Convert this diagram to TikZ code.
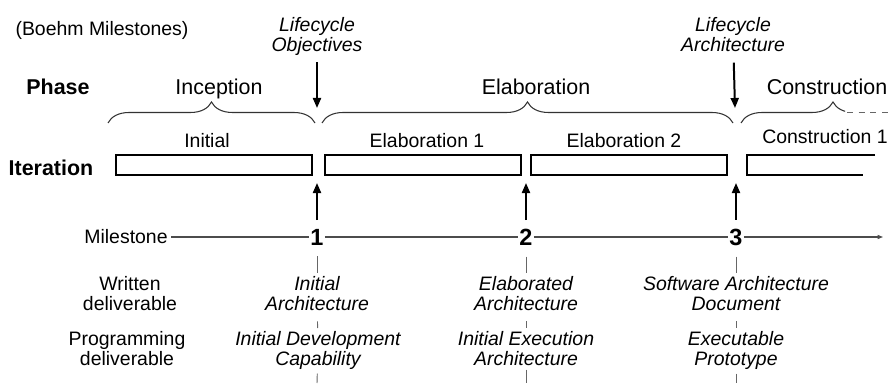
\documentclass[tikz,border=0pt]{standalone}
\usepackage{fontspec}
\setmainfont{Liberation Sans}
\usetikzlibrary{arrows.meta, decorations.pathreplacing, positioning}

\begin{document}
\begin{tikzpicture}[
    x=0.03cm, y=0.03cm,
    txt/.style={font=\fontsize{16.6}{17}\selectfont, align=center, inner sep=3pt},
    deliv/.style={font=\itshape\fontsize{16.6}{17}\selectfont, align=center, inner sep=3pt, anchor=north},
    phasename/.style={font=\fontsize{18.3}{20}\selectfont, anchor=base},
    rowhead/.style={font=\bfseries\fontsize{18.3}{20}\selectfont, anchor=base},
    num/.style={font=\bfseries\fontsize{20}{20}\selectfont, inner sep=1pt},
    iterbox/.style={draw, line width=1.7pt, minimum width=5.88cm, minimum height=0.6cm, inner sep=0pt},
    bigarrow/.style={-{Triangle[length=0.3cm, width=0.24cm]}, line width=1.7pt},
    phasebrace/.style={decorate, decoration={brace, amplitude=0.63cm}, draw=black!80, line width=0.9pt},
    tick/.style={draw=black!60, line width=0.8pt},
    msline/.style={draw=black!70, line width=0.9pt}
]
    \useasboundingbox (0,0) rectangle (891,383);

    % headings
    \node[txt, anchor=base] (boehm) at (102,347) {(Boehm Milestones)};
    \node[txt, font=\itshape\fontsize{16.6}{17}\selectfont, anchor=north] (lco) at (317,369.5) {Lifecycle\\Objectives};
    \node[txt, font=\itshape\fontsize{16.6}{17}\selectfont, anchor=north] (lca) at (733,369.5) {Lifecycle\\Architecture};
    \coordinate (lcotip) at (317,275);
    \coordinate (lcatip) at (735,275);
    \draw[bigarrow, shorten <=0.1cm] (lco) -- (lcotip);
    \draw[bigarrow, shorten <=0.22cm] (lca) -- (lcatip);

    % phases
    \node[rowhead] (phase) at (58,288) {Phase};
    \node[phasename] (inception) at (219,288) {Inception};
    \node[phasename] (elaboration) at (536,288) {Elaboration};
    \node[phasename] (construction) at (827,288) {Construction};
    \draw[phasebrace] (108,260) -- (315,260);
    \draw[phasebrace] (322,260) -- (733,260);
    \begin{scope}
        \clip (736,240) rectangle (845,300);
        \draw[phasebrace] (741,260) -- (925,260);
    \end{scope}
    \draw[draw=black!60, line width=0.9pt, dash pattern=on 5pt off 5pt] (847,270.5) -- (891,270.5);

    % iterations
    \node[rowhead] (iteration) at (51,208) {Iteration};
    \node[iterbox] (it1) at (214,218) {};
    \node[iterbox] (it2) at (423,218) {};
    \node[iterbox] (it3) at (629,218) {};
    \draw[line width=1.7pt] (875,228) -- (747,228) -- (747,208) -- (863,208);
    \node[txt, anchor=base] (initial) at (207,236) {Initial};
    \node[txt, anchor=base] (elab1) at (427,236) {Elaboration 1};
    \node[txt, anchor=base] (elab2) at (624,236) {Elaboration 2};
    \node[txt, anchor=base] (cons1) at (825,240) {Construction 1};

    % milestones
    \node[txt] (milestone) at (126,146) {Milestone};
    \node[num] (m1) at (317,146) {1};
    \node[num] (m2) at (526,146) {2};
    \node[num] (m3) at (736,146) {3};
    \coordinate (msend) at (883,146);
    \draw[msline] (milestone) -- (m1);
    \draw[msline] (m1) -- (m2);
    \draw[msline] (m2) -- (m3);
    \draw[msline, -{Triangle[length=0.16cm, width=0.12cm]}] (m3) -- (msend);
    \coordinate (up1) at (317,200);
    \coordinate (up2) at (526,200);
    \coordinate (up3) at (736,200);
    \draw[bigarrow, shorten <=0.22cm] (m1) -- (up1);
    \draw[bigarrow, shorten <=0.22cm] (m2) -- (up2);
    \draw[bigarrow, shorten <=0.22cm] (m3) -- (up3);

    % deliverables
    \node[txt, anchor=north] (written) at (130,110) {Written\\deliverable};
    \node[txt, anchor=north] (programming) at (127,55) {Programming\\deliverable};
    \node[deliv] (wd1) at (317,110) {Initial\\Architecture};
    \node[deliv] (wd2) at (526,110) {Elaborated\\Architecture};
    \node[deliv] (wd3) at (736,110) {Software Architecture\\Document};
    \node[deliv] (pd1) at (318,55) {Initial Development\\Capability};
    \node[deliv] (pd2) at (526,55) {Initial Execution\\Architecture};
    \node[deliv] (pd3) at (736,55) {Executable\\Prototype};
    \coordinate (bot1) at (317,0);
    \coordinate (bot2) at (526,0);
    \coordinate (bot3) at (736,0);
    \foreach \i in {1,2,3} {
        \draw[tick, shorten <=0.3cm] (m\i) -- (wd\i);
        \draw[tick, shorten <=0.2cm] (wd\i) -- (pd\i);
        \draw[tick] (pd\i) -- (bot\i);
    }
\end{tikzpicture}
\end{document}
